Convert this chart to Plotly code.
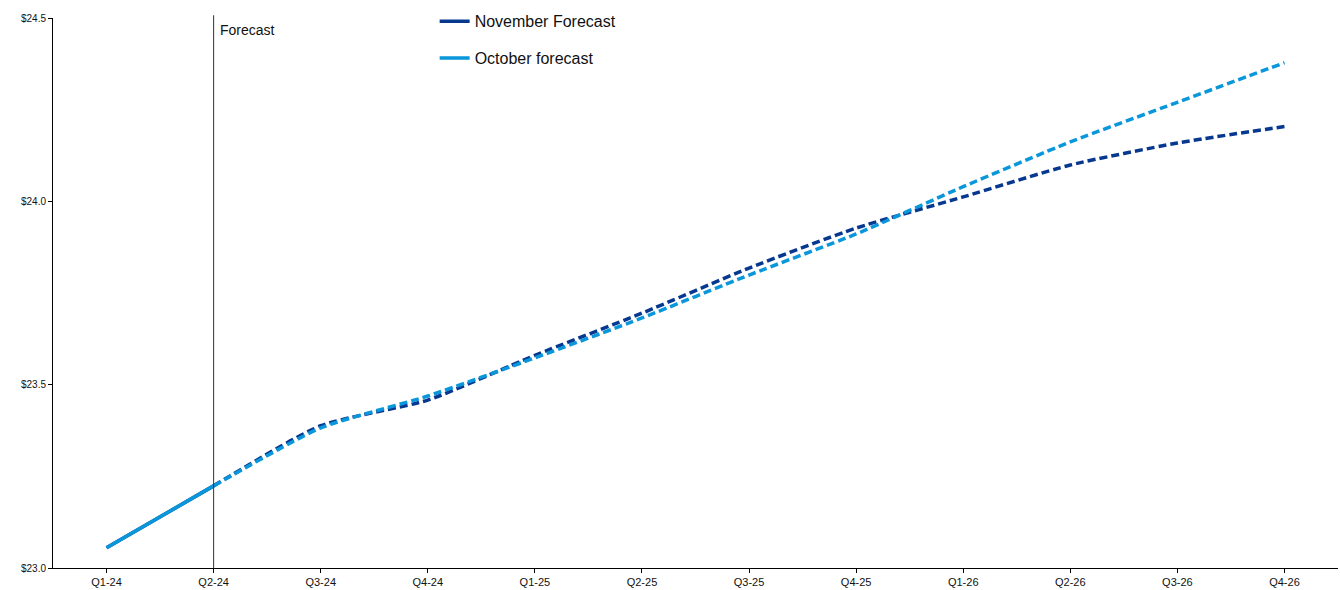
import plotly.graph_objects as go

quarters = ["Q1-24", "Q2-24", "Q3-24", "Q4-24", "Q1-25", "Q2-25",
            "Q3-25", "Q4-25", "Q1-26", "Q2-26", "Q3-26", "Q4-26"]
november = [23.055, 23.224, 23.388, 23.458, 23.580, 23.695,
            23.818, 23.927, 24.012, 24.099, 24.159, 24.204]
october = [23.055, 23.224, 23.382, 23.469, 23.573, 23.682,
           23.799, 23.911, 24.040, 24.162, 24.270, 24.378]
y_ticks = [23.0, 23.5, 24.0, 24.5]
forecast_start = 1  # index of first forecast quarter boundary (Q2-24)

NOV_COLOR = "#06388F"
OCT_COLOR = "#0A96DA"
FONT = "Liberation Sans, Arial, sans-serif"

xs = list(range(len(quarters)))
fig = go.Figure()

series = [("November Forecast", november, NOV_COLOR, "nov"),
          ("October forecast", october, OCT_COLOR, "oct")]

# forecast (dashed) portions
for name, vals, color, grp in series:
    fig.add_trace(go.Scatter(
        x=xs[forecast_start:], y=vals[forecast_start:], mode="lines",
        line=dict(color=color, width=3.5, dash="8px,4px", shape="spline", smoothing=0.6),
        name=name, legendgroup=grp, showlegend=False, hoverinfo="skip"))

# history (solid) portions, which also supply the legend entries
for name, vals, color, grp in series:
    fig.add_trace(go.Scatter(
        x=xs[:forecast_start + 1], y=vals[:forecast_start + 1], mode="lines",
        line=dict(color=color, width=3.5),
        name=name, legendgroup=grp, showlegend=True))

# forecast divider
fig.add_shape(type="line", xref="x", yref="paper",
              x0=forecast_start, x1=forecast_start, y0=0, y1=1.005,
              line=dict(color="#333333", width=1))
fig.add_annotation(x=forecast_start, y=0.997, xref="x", yref="paper",
                   text="Forecast", showarrow=False, xanchor="left", yanchor="top",
                   xshift=4, font=dict(family=FONT, size=14, color="#111111"))

fig.update_layout(
    width=1340, height=590,
    margin=dict(l=53, r=2, t=18, b=22),
    paper_bgcolor="white", plot_bgcolor="white",
    font=dict(family=FONT, color="#111111"),
    legend=dict(x=0.297, y=1.025, xanchor="left", yanchor="top",
                font=dict(family=FONT, size=16, color="#111111"),
                traceorder="grouped", tracegroupgap=13,
                bgcolor="rgba(0,0,0,0)", itemwidth=30),
    xaxis=dict(
        range=[-0.5, len(quarters) - 0.5],
        tickmode="array", tickvals=xs, ticktext=quarters,
        showgrid=False, zeroline=False,
        showline=True, linecolor="black", linewidth=1,
        ticks="outside", ticklen=4, tickcolor="black",
        tickfont=dict(family=FONT, size=11, color="#111111")),
    yaxis=dict(
        range=[23.0, 24.5],
        tickmode="array", tickvals=y_ticks,
        ticktext=[f"${v:.1f}" for v in y_ticks],
        showgrid=False, zeroline=False,
        showline=True, linecolor="black", linewidth=1,
        ticks="outside", ticklen=4, tickcolor="black",
        tickfont=dict(family=FONT, size=10, color="#111111")),
)

# tick marks between categories rather than at their centres
fig.update_xaxes(tickson="boundaries")

fig.write_html("out.html")
